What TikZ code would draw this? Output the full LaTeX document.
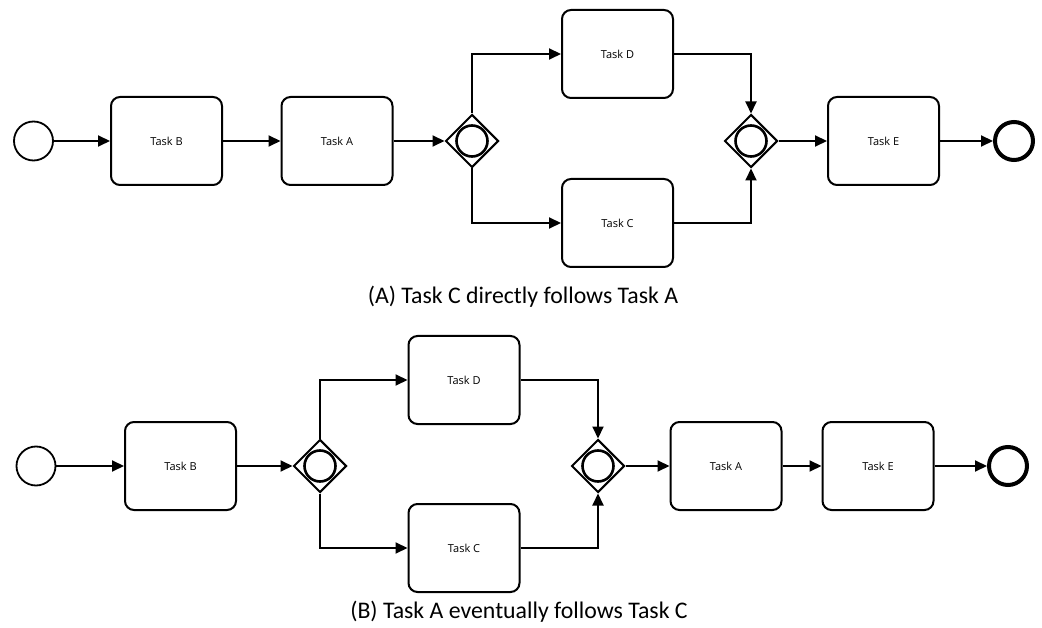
\documentclass[tikz,border=0pt]{standalone}
\usepackage{fontspec}
\setmainfont{Carlito}
\newfontfamily\taskfont{Open Sans}
\usetikzlibrary{arrows.meta,shapes.geometric}

\tikzset{
  task/.style={draw,rounded corners=9pt,line width=2pt,minimum width=111pt,minimum height=88pt,inner sep=0pt,font=\taskfont\fontsize{11}{13}\selectfont},
  start/.style={draw,circle,line width=1.8pt,minimum size=39pt,inner sep=0pt},
  finish/.style={draw,circle,line width=4pt,minimum size=38pt,inner sep=0pt},
  gate/.style={draw,diamond,aspect=1,line width=2pt,minimum width=53pt,minimum height=53pt,inner sep=0pt},
  gatering/.style={draw,circle,line width=2.6pt,minimum size=31pt,inner sep=0pt},
  flow/.style={line width=2pt,-{Triangle[length=12pt,width=11pt]}},
  caption/.style={font=\fontsize{23.8}{28}\selectfont}
}

\begin{document}
\begin{tikzpicture}[x=1pt,y=-1pt]
\useasboundingbox (0,0) rectangle (1042,628);

\node[start] (s1) at (33.5,141) {};
\node[task] (b1) at (166.5,141) {Task B};
\node[task] (a1) at (337,141) {Task A};
\node[gate] (g11) at (472,141) {};
\node[gatering] at (g11) {};
\node[task] (d1) at (617.5,54) {Task D};
\node[task] (c1) at (617.5,223) {Task C};
\node[gate] (g12) at (751,141) {};
\node[gatering] at (g12) {};
\node[task] (e1) at (883.5,141) {Task E};
\node[finish] (f1) at (1014,141) {};
\node[caption] (capa) at (523,297) {(A) Task C directly follows Task A};

\draw[flow] (s1) -- (b1);
\draw[flow] (b1) -- (a1);
\draw[flow] (a1) -- (g11);
\draw[flow] (g11.north) |- (d1.west);
\draw[flow] (g11.south) |- (c1.west);
\draw[flow] (d1.east) -| (g12.north);
\draw[flow] (c1.east) -| (g12.south);
\draw[flow] (g12) -- (e1);
\draw[flow] (e1) -- (f1);

\node[start] (s2) at (36,466) {};
\node[task] (b2) at (180.5,466) {Task B};
\node[gate] (g21) at (320,466) {};
\node[gatering] at (g21) {};
\node[task] (d2) at (464,380) {Task D};
\node[task] (c2) at (464,548) {Task C};
\node[gate] (g22) at (598,466) {};
\node[gatering] at (g22) {};
\node[task] (a2) at (726,466) {Task A};
\node[task] (e2) at (878,466) {Task E};
\node[finish] (f2) at (1008,466) {};
\node[caption] (capb) at (519,612) {(B) Task A eventually follows Task C};

\draw[flow] (s2) -- (b2);
\draw[flow] (b2) -- (g21);
\draw[flow] (g21.north) |- (d2.west);
\draw[flow] (g21.south) |- (c2.west);
\draw[flow] (d2.east) -| (g22.north);
\draw[flow] (c2.east) -| (g22.south);
\draw[flow] (g22) -- (a2);
\draw[flow] (a2) -- (e2);
\draw[flow] (e2) -- (f2);
\end{tikzpicture}
\end{document}
